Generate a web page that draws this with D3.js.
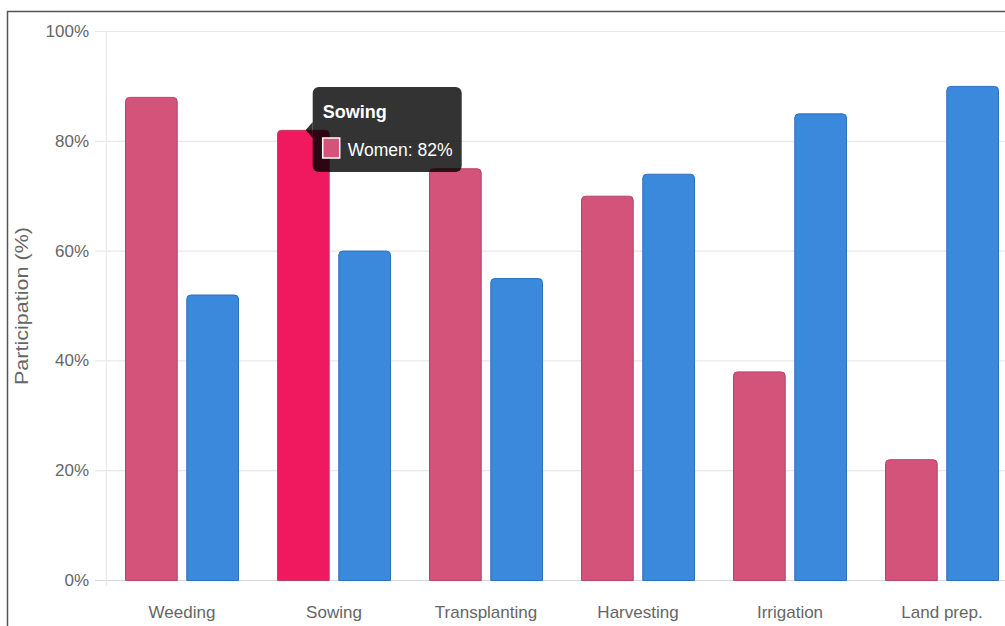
<!DOCTYPE html>
<html>
<head>
<meta charset="utf-8">
<script src="https://cdn.jsdelivr.net/npm/d3@7"></script>
<style>
  body { margin: 0; background: #fff; }
  svg { display: block; font-family: "Liberation Sans", Arial, sans-serif; }
</style>
</head>
<body>
<div id="chart"></div>
<script>
// data
const categories = ["Weeding", "Sowing", "Transplanting", "Harvesting", "Irrigation", "Land prep."];
const series = ["Women", "Men"];
const women = [88, 82, 75, 70, 38, 22];
const men = [52, 60, 55, 74, 85, 90];
const yTicks = [0, 20, 40, 60, 80, 100];
const hovered = { category: 1, series: 0 }; // tooltip shown on Sowing / Women

const colors = { Women: "#d4537b", Men: "#3a89dd" };
const strokes = { Women: "#b5426a", Men: "#2b6fbf" };
const hoverColor = "#f0195f";

const W = 1005, H = 626;

const svg = d3.select("#chart").append("svg")
  .attr("width", W).attr("height", H);

// frame
svg.append("rect")
  .attr("x", 7.5).attr("y", 11.5)
  .attr("width", W + 20).attr("height", H + 20)
  .attr("fill", "none").attr("stroke", "#555").attr("stroke-width", 1.5);

const x = d3.scaleBand().domain(categories).range([106, 1018]);
const x1 = d3.scaleBand().domain(series).range([19, 133]).paddingInner(0.14);
const y = d3.scaleLinear().domain([0, 100]).range([580, 31]);

// grid
svg.append("g").selectAll("line").data(yTicks).join("line")
  .attr("x1", 95).attr("x2", W)
  .attr("y1", d => y(d) + 0.5).attr("y2", d => y(d) + 0.5)
  .attr("stroke", d => d === 0 ? "#d6d6d6" : "#e8e8e8").attr("stroke-width", 1.2);
svg.append("line")
  .attr("x1", 106.5).attr("x2", 106.5).attr("y1", y(100)).attr("y2", y(0) + 6)
  .attr("stroke", "#e8e8e8").attr("stroke-width", 1.2);

// y tick labels
svg.append("g").selectAll("text").data(yTicks).join("text")
  .attr("x", 89).attr("y", d => y(d) + 6)
  .attr("text-anchor", "end")
  .attr("font-size", 17).attr("fill", "#666")
  .text(d => d + "%");

// y title
svg.append("text")
  .attr("transform", "translate(28,306) rotate(-90)")
  .attr("text-anchor", "middle")
  .attr("font-size", 18).attr("fill", "#666")
  .attr("textLength", 158).attr("lengthAdjust", "spacingAndGlyphs")
  .text("Participation (%)");

// x labels
svg.append("g").selectAll("text").data(categories).join("text")
  .attr("x", d => x(d) + x.bandwidth() / 2).attr("y", 618)
  .attr("text-anchor", "middle")
  .attr("font-size", 17).attr("fill", "#666")
  .text(d => d);

function topRounded(x0, y0, w, h, r) {
  r = Math.min(r, h);
  return `M${x0},${y0 + h}V${y0 + r}Q${x0},${y0} ${x0 + r},${y0}H${x0 + w - r}Q${x0 + w},${y0} ${x0 + w},${y0 + r}V${y0 + h}Z`;
}

const rows = [];
categories.forEach((c, i) => {
  rows.push({ cat: c, i, s: "Women", v: women[i] });
  rows.push({ cat: c, i, s: "Men", v: men[i] });
});

svg.append("g").selectAll("path").data(rows).join("path")
  .attr("d", d => {
    const bx = x(d.cat) + x1(d.s);
    return topRounded(bx + 0.5, y(d.v) + 0.5, x1.bandwidth() - 1, y(0) - y(d.v), 4);
  })
  .attr("fill", d => (d.i === hovered.category && d.s === series[hovered.series]) ? hoverColor : colors[d.s])
  .attr("stroke", d => strokes[d.s]).attr("stroke-width", 1);

// tooltip
const hs = series[hovered.series];
const hv = (hs === "Women" ? women : men)[hovered.category];
const tx = x(categories[hovered.category]) + x1(hs) + x1.bandwidth() - 17;
const ty = 87;
const tip = svg.append("g");
tip.append("path")
  .attr("d", `M${tx},${ty + 35}L${tx - 7},${ty + 43}L${tx},${ty + 51}Z`)
  .attr("fill", "rgba(0,0,0,0.8)");
tip.append("rect")
  .attr("x", tx).attr("y", ty).attr("width", 149).attr("height", 85).attr("rx", 6)
  .attr("fill", "rgba(0,0,0,0.8)");
tip.append("text")
  .attr("x", tx + 10).attr("y", ty + 31)
  .attr("font-size", 18).attr("font-weight", "bold").attr("fill", "#fff")
  .text(categories[hovered.category]);
tip.append("rect")
  .attr("x", tx + 10).attr("y", ty + 51).attr("width", 17).attr("height", 20)
  .attr("fill", colors[hs]).attr("stroke", "#fff").attr("stroke-width", 1.5);
tip.append("text")
  .attr("x", tx + 35).attr("y", ty + 69)
  .attr("font-size", 18).attr("fill", "#fff")
  .attr("textLength", 105).attr("lengthAdjust", "spacingAndGlyphs")
  .text(`${hs}: ${hv}%`);
</script>
</body>
</html>
